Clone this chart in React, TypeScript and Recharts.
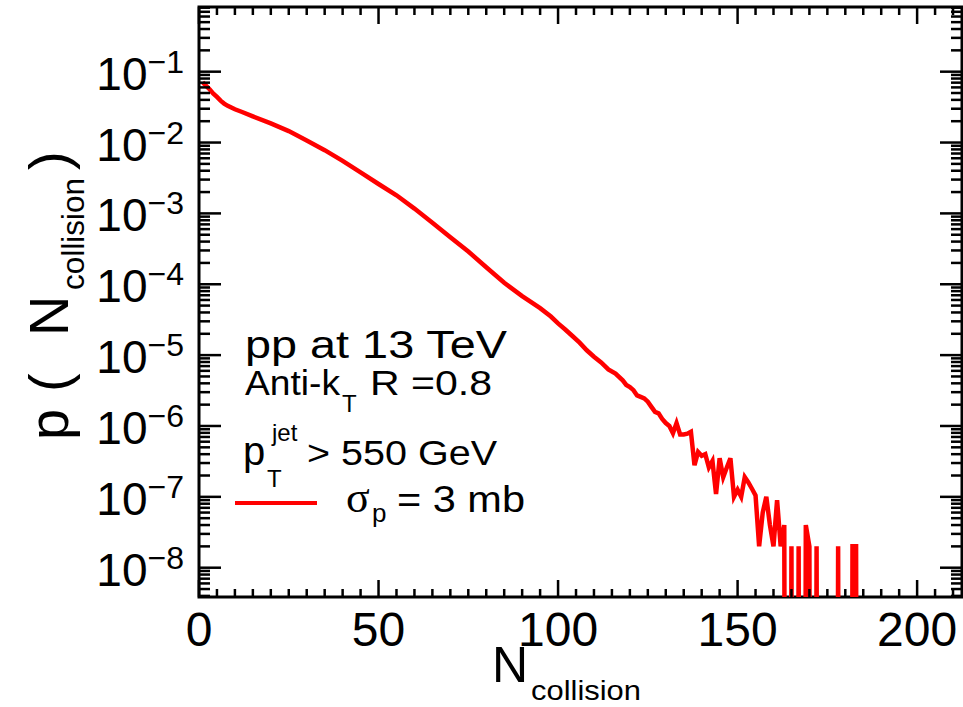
import React from 'react';
import { LineChart, Line, XAxis, YAxis, ReferenceArea } from 'recharts';

// N_collision bins and p(N_collision) for sigma_p = 3 mb (0 = empty bin)
const N_COLL = [
  1, 2, 3, 4, 5, 6, 7, 8, 10, 12, 15, 20, 25, 30, 35, 40, 45, 50, 55, 60,
  65, 70, 75, 80, 85, 90, 95, 98, 100, 102, 104, 106, 108, 110, 112, 114, 116, 118,
  119, 120, 121, 122, 123, 124, 125, 126, 127, 128, 129, 130, 131, 132, 133, 134,
  135, 136, 137, 138, 139, 140, 141, 142, 143, 144, 145, 146, 147, 148, 149, 150,
  151, 152, 153, 154, 155, 156, 157, 158, 159, 160, 161, 162, 163, 164, 165, 166,
  167, 168, 169, 170, 171, 172, 173, 174, 175, 176, 177, 178, 179, 180, 181, 182,
  183, 184,
];
const P_SIGMA3 = [
  0.071, 0.063, 0.056, 0.049, 0.044, 0.039, 0.0355, 0.033, 0.0295, 0.027, 0.0234, 0.0186,
  0.0145, 0.0107, 0.0078, 0.0055, 0.0038, 0.0026, 0.0018, 0.00117,
  7.4e-4, 4.6e-4, 2.9e-4, 1.74e-4, 1.05e-4, 6.8e-5, 4.6e-5, 3.5e-5, 2.8e-5, 2.3e-5,
  1.86e-5, 1.5e-5, 1.17e-5, 9.5e-6, 7.9e-6, 6.3e-6, 5.5e-6, 4.4e-6,
  3.8e-6, 3.55e-6, 3.2e-6, 2.7e-6, 2.57e-6, 2.45e-6, 2.2e-6, 1.86e-6, 1.58e-6, 1.51e-6,
  1.26e-6, 1.1e-6, 1.0e-6, 7.9e-7, 1.1e-6, 7.6e-7,
  7.6e-7, 7.8e-7, 8.3e-7, 2.8e-7, 4.3e-7, 3.8e-7, 4.0e-7, 2.6e-7, 3.2e-7, 1.1e-7,
  3.5e-7, 1.9e-7, 2.6e-7, 3.5e-7, 1.0e-7, 1.26e-7,
  1.0e-7, 1.9e-7, 1.6e-7, 1.3e-7, 1.05e-7, 2e-8, 6e-8, 1e-7, 4e-8, 2e-8, 9e-8, 2e-8,
  4e-8, 0, 2e-8, 0,
  2e-8, 0, 4e-8, 2e-8, 0, 2e-8, 0, 0, 0, 0, 0, 2e-8, 0, 0, 0, 2e-8,
  2e-8, 0,
];
// log axis cannot show 0, push empty bins far below the frame
const EMPTY = 1e-30;

const X_MAJOR = [0, 50, 100, 150, 200];
const X_LABELS = ['0', '50', '100', '150', '200'];
const Y_MAJOR = [1e-1, 1e-2, 1e-3, 1e-4, 1e-5, 1e-6, 1e-7, 1e-8];
const Y_EXP = ['−1', '−2', '−3', '−4', '−5', '−6', '−7', '−8'];

const X_MAX = 212.5;
const Y_MIN = 3.86e-9;
const Y_MAX = 0.818;

const W = 963;
const H = 707;
const PLOT_LEFT = 199;
const PLOT_RIGHT = 962;
const PLOT_TOP = 7;
const PLOT_BOTTOM = 597;
const FONT = '"Liberation Sans", Arial, Helvetica, sans-serif';
const SERIF = '"Liberation Serif", "Times New Roman", serif';

const xMinor: number[] = [];
for (let t = 5; t <= 210; t += 5) if (t % 50 !== 0) xMinor.push(t);
const yMinor: number[] = [];
for (let k = -9; k <= -1; k++) {
  for (let m = 2; m <= 9; m++) {
    const v = Number((m * Math.pow(10, k)).toPrecision(3));
    if (v > Y_MIN && v < Y_MAX) yMinor.push(v);
  }
}
const X_TICKS = [...X_MAJOR, ...xMinor].sort((a, b) => a - b);
const Y_TICKS = [...Y_MAJOR, ...yMinor].sort((a, b) => a - b);

const rows = N_COLL.map((n, i) => ({ n, p: P_SIGMA3[i] > 0 ? P_SIGMA3[i] : EMPTY }));

const XTick = (props: any) => {
  const { x, payload } = props;
  const mi = X_MAJOR.indexOf(payload.value);
  const len = mi >= 0 ? 17 : 8;
  return (
    <g>
      <line x1={x} x2={x} y1={PLOT_BOTTOM} y2={PLOT_BOTTOM - len} stroke="#000" strokeWidth={2.5} />
      <line x1={x} x2={x} y1={PLOT_TOP} y2={PLOT_TOP + len} stroke="#000" strokeWidth={2.5} />
      {mi >= 0 && (
        <text x={x} y={646} textAnchor="middle" fontFamily={FONT} fontSize={48} fill="#000">
          {X_LABELS[mi]}
        </text>
      )}
    </g>
  );
};

const YTick = (props: any) => {
  const { y, payload } = props;
  const v = payload.value;
  const mi = Y_MAJOR.findIndex((m) => Math.abs(v / m - 1) < 1e-6);
  const len = mi >= 0 ? 22 : 11;
  return (
    <g>
      <line x1={PLOT_LEFT} x2={PLOT_LEFT + len} y1={y} y2={y} stroke="#000" strokeWidth={2.5} />
      <line x1={PLOT_RIGHT} x2={PLOT_RIGHT - len} y1={y} y2={y} stroke="#000" strokeWidth={2.5} />
      {mi >= 0 && (
        <text x={184} y={y + 18} textAnchor="end" fontFamily={FONT} fontSize={46} fill="#000">
          10
          <tspan fontSize={32} dy={-17}>
            {Y_EXP[mi]}
          </tspan>
        </text>
      )}
    </g>
  );
};

export default function App() {
  return (
    <div style={{ position: 'absolute', left: 0, top: 0, width: W, height: H, background: '#fff' }}>
      <LineChart width={W} height={H} data={rows} margin={{ top: PLOT_TOP, right: W - PLOT_RIGHT, bottom: 0, left: 0 }}>
        <XAxis
          type="number"
          dataKey="n"
          domain={[0, X_MAX]}
          ticks={X_TICKS}
          interval={0}
          height={H - PLOT_BOTTOM}
          tick={XTick}
          tickLine={false}
          axisLine={false}
          allowDataOverflow
        />
        <YAxis
          type="number"
          scale="log"
          domain={[Y_MIN, Y_MAX]}
          ticks={Y_TICKS}
          interval={0}
          width={PLOT_LEFT}
          tick={YTick}
          tickLine={false}
          axisLine={false}
          allowDataOverflow
        />
        <Line
          type="linear"
          dataKey="p"
          stroke="#ff0000"
          strokeWidth={4.5}
          dot={false}
          isAnimationActive={false}
        />
        <ReferenceArea x1={0} x2={X_MAX} y1={Y_MIN} y2={Y_MAX} fill="none" fillOpacity={0} stroke="#000" strokeWidth={3} />
      </LineChart>
      <svg width={W} height={H} style={{ position: 'absolute', left: 0, top: 0, pointerEvents: 'none' }}>
        {/* x axis title */}
        <text x={492} y={682} fontFamily={FONT} fontSize={50} fill="#000">N</text>
        <text x={531} y={700} fontFamily={FONT} fontSize={28} fill="#000" textLength={110} lengthAdjust="spacingAndGlyphs">collision</text>
        {/* y axis title */}
        <g fontFamily={FONT} fill="#000">
          <text transform="translate(68,440) rotate(-90)" fontSize={56}>p</text>
          <text transform="translate(68,392) rotate(-90)" fontSize={56}>(</text>
          <text transform="translate(68,336) rotate(-90)" fontSize={56}>N</text>
          <text transform="translate(84,290) rotate(-90)" fontSize={31} textLength={112} lengthAdjust="spacingAndGlyphs">collision</text>
          <text transform="translate(68,170) rotate(-90)" fontSize={56}>)</text>
        </g>
        {/* annotations */}
        <g fontFamily={FONT} fill="#000">
          <text x={245} y={358} fontSize={38} textLength={262} lengthAdjust="spacingAndGlyphs">pp at 13 TeV</text>
          <text x={245} y={395} fontSize={35} textLength={95} lengthAdjust="spacingAndGlyphs">Anti-k</text>
          <text x={342} y={412} fontSize={24}>T</text>
          <text x={370} y={395} fontSize={35} textLength={122} lengthAdjust="spacingAndGlyphs">R =0.8</text>
          <text x={243} y={465} fontSize={40}>p</text>
          <text x={272} y={441} fontSize={24}>jet</text>
          <text x={267} y={487} fontSize={24}>T</text>
          <text x={307} y={465} fontSize={35} textLength={190} lengthAdjust="spacingAndGlyphs">&gt; 550 GeV</text>
          <line x1={235} x2={317} y1={503} y2={503} stroke="#ff0000" strokeWidth={4} />
          <text x={346} y={512} fontSize={44} fontFamily={SERIF}>σ</text>
          <text x={372} y={522} fontSize={26}>p</text>
          <text x={397} y={512} fontSize={37} textLength={128} lengthAdjust="spacingAndGlyphs">= 3 mb</text>
        </g>
      </svg>
    </div>
  );
}
